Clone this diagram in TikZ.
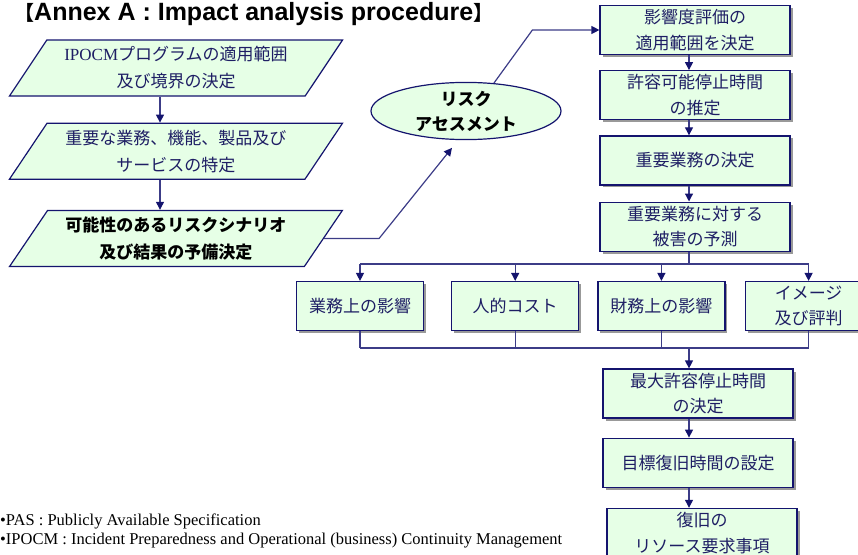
\documentclass[tikz,border=0pt]{standalone}
\usepackage{fontspec}
\setmainfont{Noto Sans CJK JP}
\newfontfamily\jpfont{Noto Sans CJK JP}
\newfontfamily\latinserif{Liberation Serif}
\newfontfamily\latinsans{Liberation Sans}
\usetikzlibrary{shapes.geometric, arrows.meta, positioning, calc, shadows}
\definecolor{navy}{RGB}{20,20,110}
\definecolor{linkc}{RGB}{60,60,135}
\definecolor{mint}{RGB}{230,255,230}
\definecolor{inkc}{RGB}{30,30,100}

\begin{document}
\begin{tikzpicture}[
    x=1pt, y=-1pt,
    node distance=15pt,
    box/.style={rectangle, draw=navy, fill=mint, line width=1.2pt, minimum width=190pt, minimum height=49pt, inner sep=0pt, align=center, text=inkc, font=\fontsize{17}{25.5}\selectfont, drop shadow={shadow xshift=2.5pt, shadow yshift=-2.5pt, fill=gray!80, opacity=1}},
    small/.style={box, minimum width=127pt},
    para/.style={trapezium, trapezium left angle=53, trapezium right angle=127, trapezium stretches=true, draw=navy, fill=mint, line width=1.2pt, minimum width=334pt, minimum height=56pt, inner sep=0pt, align=center, text=inkc, font=\fontsize{17}{27}\selectfont},
    oval/.style={ellipse, draw=navy, fill=mint, line width=1.2pt, minimum width=190pt, minimum height=56pt, inner sep=0pt, align=center, font=\bfseries\fontsize{17}{25}\selectfont},
    ln/.style={draw=linkc, line width=1.2pt},
    arr/.style={ln, -{Triangle[length=8pt, width=8pt, color=navy]}},
    note/.style={anchor=base west, inner sep=0pt, font=\latinserif\fontsize{16.5}{16.5}\selectfont},
]
\useasboundingbox (0,0) rectangle (858,554);

\coordinate (lx) at (160,0);
\coordinate (ax) at (689,0);
\coordinate (top) at (0,264);
\coordinate (bot) at (0,348);

% title
\node[anchor=base west, inner sep=0pt, font=\latinsans\bfseries\fontsize{25}{25}\selectfont] (title) at (14,20) {{\jpfont\fontsize{20}{20}\selectfont【}Annex A : Impact analysis procedure{\jpfont\fontsize{20}{20}\selectfont】}};

% left column
\node[para] (scope) at (176,68) {{\latinserif IPOCM}プログラムの適用範囲\\及び境界の決定};
\node[para, below=26pt of scope] (prod) {重要な業務、機能、製品及び\\サービスの特定};
\node[para, below=30pt of prod, text=black, font=\bfseries\fontsize{17}{27}\selectfont] (scen) {可能性のあるリスクシナリオ\\及び結果の予備決定};

\node[oval] (assess) at (466,111) {リスク\\アセスメント};

% right column
\node[box] (extent) at (695,30) {影響度評価の\\適用範囲を決定};
\node[box, below=of extent] (mtpd) {許容可能停止時間\\の推定};
\node[box, below=of mtpd] (crit) {重要業務の決定};
\node[box, below=16pt of crit] (harm) {重要業務に対する\\被害の予測};

% impacts
\node[small] (ops) at (360,306) {業務上の影響};
\node[small, right=27pt of ops] (cost) {人的コスト};
\node[small, right=18pt of cost] (fin) {財務上の影響};
\node[small, right=19pt of fin] (image) {イメージ\\及び評判};

\node[box] (maxt) at (698,393.5) {最大許容停止時間\\の決定};
\node[box, below=19pt of maxt] (rto) {目標復旧時間の設定};
\node[box, below=20pt of rto, xshift=4pt] (res) {復旧の\\リソース要求事項};

% connectors
\draw[arr] (scope.south -| lx) -- (prod.north -| lx);
\draw[arr] (prod.south -| lx) -- (scen.north -| lx);
\draw[arr, shorten >=10pt] (scen.east) -- ++(55,0) -- (assess.-105);
\draw[arr] (assess.45) -- ($(extent.west)+(-67,0)$) -- (extent.west);

\foreach \a/\b in {extent/mtpd, mtpd/crit, crit/harm, maxt/rto, rto/res}
  \draw[arr] (\a.south -| ax) -- (\b.north -| ax);

\draw[ln] (harm.south -| ax) -- (top -| ax);
\draw[ln] (top -| ops) -- (top -| image);
\foreach \b in {ops, cost, fin, image} {
  \draw[arr] (top -| \b) -- (\b.north);
  \draw[ln] (\b.south) -- (bot -| \b);
}
\draw[ln] (bot -| ops) -- (bot -| image);
\draw[arr] (bot -| ax) -- (maxt.north -| ax);

% notes
\node[note] (pas) at (0,525) {•PAS : Publicly Available Specification};
\node[note] (ipocm) at (0,544) {•IPOCM : Incident Preparedness and Operational (business) Continuity Management};

\end{tikzpicture}
\end{document}
